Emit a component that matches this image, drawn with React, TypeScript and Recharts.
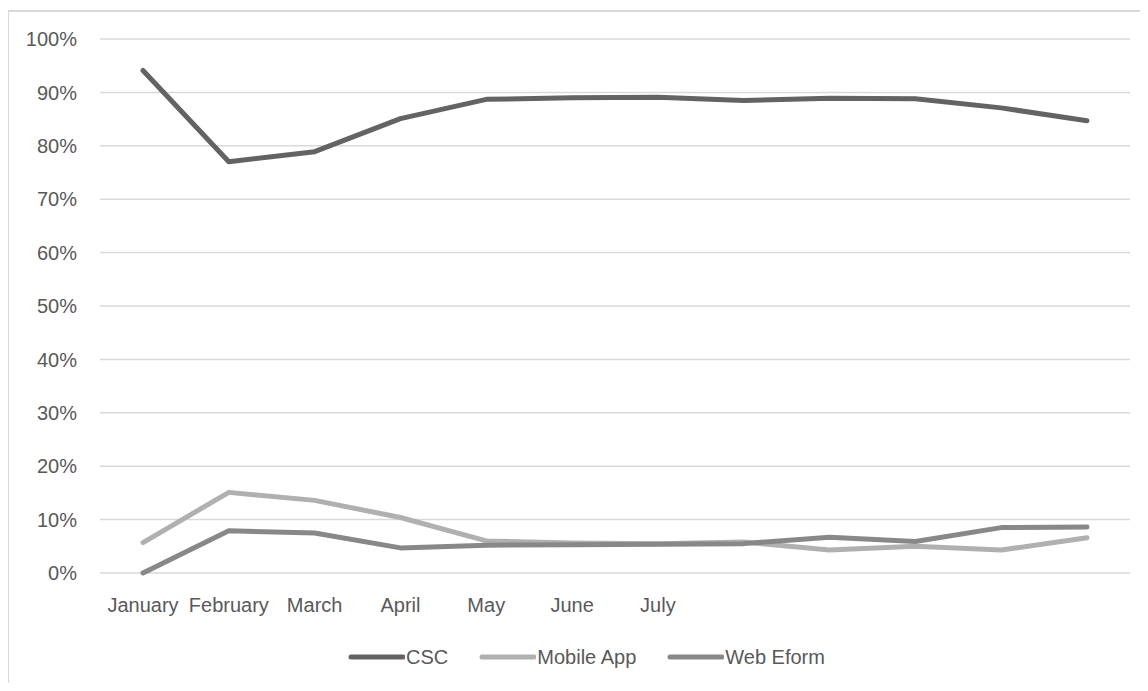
import React from "react";
import { LineChart, Line, XAxis, YAxis, CartesianGrid, Legend } from "recharts";

const months = [
  "January", "February", "March", "April", "May", "June",
  "July", "August", "September", "October", "November", "December",
];
const xTickLabels = ["January", "February", "March", "April", "May", "June", "July"];
const yTicks = [0, 0.1, 0.2, 0.3, 0.4, 0.5, 0.6, 0.7, 0.8, 0.9, 1];

const cscValues = [0.941, 0.77, 0.789, 0.851, 0.887, 0.89, 0.891, 0.885, 0.889, 0.888, 0.871, 0.847];
const mobileAppValues = [0.057, 0.151, 0.136, 0.104, 0.06, 0.056, 0.055, 0.058, 0.043, 0.05, 0.043, 0.066];
const webEformValues = [0.0, 0.079, 0.075, 0.047, 0.052, 0.053, 0.054, 0.055, 0.067, 0.059, 0.085, 0.086];

const seriesNames = ["CSC", "Mobile App", "Web Eform"];
const seriesColors = ["#636363", "#b0b0b0", "#888888"];

const data = months.map((m, i) => ({
  month: m,
  CSC: cscValues[i],
  "Mobile App": mobileAppValues[i],
  "Web Eform": webEformValues[i],
}));

const FONT = "'Liberation Sans', Arial, sans-serif";
const TEXT = "#595959";

const LegendContent = () => (
  <div
    style={{
      display: "flex",
      justifyContent: "center",
      alignItems: "center",
      height: 30,
      fontFamily: FONT,
      fontSize: 20,
      color: TEXT,
    }}
  >
    {seriesNames.map((name, i) => (
      <div key={name} style={{ display: "flex", alignItems: "center", marginRight: i < 2 ? 30 : 0 }}>
        <svg width={58} height={10} style={{ display: "block" }}>
          <line x1={4} y1={5} x2={56} y2={5} stroke={seriesColors[i]} strokeWidth={5} strokeLinecap="round" />
        </svg>
        <span style={{ marginLeft: 1 }}>{name}</span>
      </div>
    ))}
  </div>
);

export default function App() {
  return (
    <div
      style={{
        position: "relative",
        width: 1148,
        height: 691,
        margin: -8,
        overflow: "hidden",
        background: "#fff",
      }}
    >
      <div
        style={{
          position: "absolute",
          left: 7,
          top: 10,
          width: 1200,
          height: 800,
          borderTop: "2px solid #d9d9d9",
          borderLeft: "2px solid #d9d9d9",
          boxSizing: "border-box",
        }}
      />
      <div style={{ position: "absolute", left: 0, top: 0 }}>
        <LineChart
          width={1180}
          height={691}
          data={data}
          margin={{ top: 39, right: 50, left: 0, bottom: 19 }}
        >
          <CartesianGrid vertical={false} stroke="#d9d9d9" strokeWidth={1.5} />
          <XAxis
            dataKey="month"
            interval={0}
            height={69}
            padding={{ left: 43, right: 43 }}
            axisLine={false}
            tickLine={false}
            tickSize={0}
            tickMargin={25}
            tickFormatter={(_v: string, i: number) => xTickLabels[i] ?? ""}
            tick={{ fill: TEXT, fontSize: 20, fontFamily: FONT }}
          />
          <YAxis
            width={100}
            domain={[0, 1]}
            ticks={yTicks}
            interval={0}
            axisLine={false}
            tickLine={false}
            tickSize={0}
            tickMargin={23}
            tickFormatter={(v: number) => `${Math.round(v * 100)}%`}
            tick={{ fill: TEXT, fontSize: 20, fontFamily: FONT }}
          />
          <Legend verticalAlign="bottom" height={30} content={<LegendContent />} wrapperStyle={{ width: 1172, left: 0 }} />
          {seriesNames.map((name, i) => (
            <Line
              key={name}
              type="linear"
              dataKey={name}
              stroke={seriesColors[i]}
              strokeWidth={5}
              strokeLinecap="round"
              strokeLinejoin="round"
              dot={false}
              activeDot={false}
              isAnimationActive={false}
            />
          ))}
        </LineChart>
      </div>
    </div>
  );
}
